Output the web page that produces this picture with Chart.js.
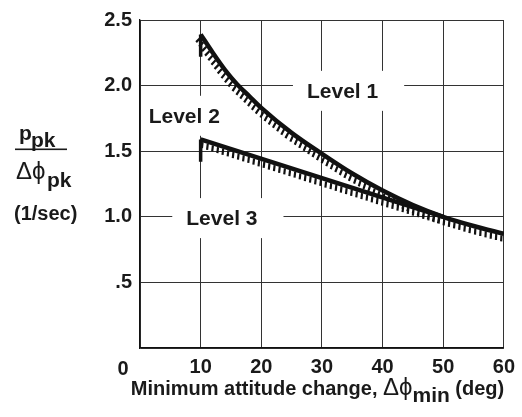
<!DOCTYPE html>
<html>
<head>
<meta charset="utf-8">
<script src="https://cdn.jsdelivr.net/npm/chart.js@4.4.0/dist/chart.umd.min.js"></script>
<style>
  html, body { margin: 0; padding: 0; background: #fff; }
  #wrap { position: relative; width: 522px; height: 417px; }
</style>
</head>
<body>
<div id="wrap"><canvas id="chart" width="522" height="417"></canvas></div>
<script>
// Limite Level 1 / Level 2 (curva superior)
const xLevel1 = [10, 12, 14, 16, 18, 20, 25, 30, 35, 40, 45, 50, 55, 60];
const yLevel1 = [2.39, 2.25, 2.12, 2.01, 1.92, 1.83, 1.64, 1.48, 1.33, 1.20, 1.09, 1.00, 0.93, 0.87];
// Limite Level 2 / Level 3 (recta inferior)
const xLevel2 = [10, 50];
const yLevel2 = [1.59, 1.00];
// Trazos verticales en el inicio de cada limite
const xStub1 = [10, 10];
const yStub1 = [2.39, 2.22];
const xStub2 = [10, 10];
const yStub2 = [1.59, 1.42];

// Etiquetas de zona
const zoneText = ['Level 1', 'Level 2', 'Level 3'];
const zoneX = [33.4, 7.3, 13.5];
const zoneY = [1.96, 1.77, 0.99];

const xTicks = [0, 10, 20, 30, 40, 50, 60];
const yTicks = [0, 0.5, 1.0, 1.5, 2.0, 2.5];

const FONT = "'Liberation Sans', Arial, Helvetica, sans-serif";
const INK = '#1a1a1a';

const toPoints = (xs, ys) => xs.map((x, i) => ({ x: x, y: ys[i] }));

// Dibuja rayado corto debajo de una polilinea
function hatch(ctx, pts, spacing, off, len) {
  let carry = spacing / 2;
  for (let i = 0; i < pts.length - 1; i++) {
    const x0 = pts[i].x, y0 = pts[i].y;
    const dx = pts[i + 1].x - x0, dy = pts[i + 1].y - y0;
    const L = Math.hypot(dx, dy);
    if (L === 0) continue;
    const ux = dx / L, uy = dy / L;
    const nx = -uy, ny = ux;
    let t = carry;
    for (; t < L; t += spacing) {
      const px = x0 + ux * t, py = y0 + uy * t;
      ctx.moveTo(px + nx * off, py + ny * off);
      ctx.lineTo(px + nx * (off + len) + ux * 1.2, py + ny * (off + len) + uy * 1.2);
    }
    carry = t - L;
  }
}

const decor = {
  id: 'decor',
  beforeDatasetsDraw(chart) {
    const { ctx, chartArea, scales } = chart;
    ctx.save();
    ctx.beginPath();
    ctx.rect(chartArea.left + 1, chartArea.top + 1, chartArea.width - 2, chartArea.height - 2);
    ctx.clip();
    ctx.font = 'bold 21px ' + FONT;
    ctx.textBaseline = 'middle';
    ctx.textAlign = 'center';
    zoneText.forEach((txt, i) => {
      const cx = scales.x.getPixelForValue(zoneX[i]);
      const cy = scales.y.getPixelForValue(zoneY[i]);
      const w = ctx.measureText(txt).width;
      ctx.fillStyle = '#fff';
      ctx.fillRect(cx - w / 2 - 14, cy - 20, w + 40, 40);
      ctx.fillStyle = INK;
      ctx.fillText(txt, cx, cy + 1);
    });
    ctx.restore();
  },
  afterDatasetsDraw(chart) {
    const { ctx } = chart;
    ctx.save();
    ctx.strokeStyle = '#111';
    ctx.lineWidth = 2.2;
    ctx.lineCap = 'butt';
    ctx.beginPath();
    chart.data.datasets.forEach((ds, i) => {
      if (!ds.hatch) return;
      const pts = chart.getDatasetMeta(i).data.map(p => ({ x: p.x, y: p.y }));
      hatch(ctx, pts, 5.4, 2, 6);
    });
    ctx.stroke();
    ctx.restore();
  },
  afterDraw(chart) {
    const { ctx, scales } = chart;
    ctx.save();
    ctx.fillStyle = INK;
    ctx.textBaseline = 'alphabetic';
    ctx.textAlign = 'left';

    // "0" del origen, desplazado a la izquierda
    ctx.font = 'bold 20px ' + FONT;
    ctx.textAlign = 'center';
    ctx.fillText('0', scales.x.getPixelForValue(0) - 17, 375);
    ctx.textAlign = 'left';

    // Titulo eje X
    const parts = [
      { t: 'Minimum attitude change, ', f: 'bold 20px ' + FONT, dy: 0 },
      { t: '\u0394\u03D5', f: '24px ' + FONT, dy: 0 },
      { t: 'min', f: 'bold 21px ' + FONT, dy: 7 },
      { t: ' (deg)', f: 'bold 20px ' + FONT, dy: 0 }
    ];
    let total = 0;
    parts.forEach(p => { ctx.font = p.f; p.w = ctx.measureText(p.t).width; total += p.w; });
    let x = 317.5 - total / 2;
    parts.forEach(p => { ctx.font = p.f; ctx.fillText(p.t, x, 395 + p.dy); x += p.w; });

    // Titulo eje Y
    ctx.font = 'bold 21px ' + FONT;
    ctx.fillText('p', 19, 140);
    ctx.fillText('pk', 31, 147);
    ctx.fillRect(15, 148.5, 52, 1.6);
    ctx.font = '24px ' + FONT;
    ctx.fillText('\u0394\u03D5', 16, 179);
    ctx.font = 'bold 21px ' + FONT;
    ctx.fillText('pk', 47, 187);
    ctx.font = 'bold 20px ' + FONT;
    ctx.fillText('(1/sec)', 14, 220);
    ctx.restore();
  }
};

new Chart(document.getElementById('chart'), {
  type: 'line',
  data: {
    datasets: [
      {
        data: toPoints(xLevel1, yLevel1),
        borderColor: '#111', borderWidth: 4.5, pointRadius: 0,
        cubicInterpolationMode: 'monotone', hatch: true
      },
      {
        data: toPoints(xLevel2, yLevel2),
        borderColor: '#111', borderWidth: 4.5, pointRadius: 0, hatch: true
      },
      {
        data: toPoints(xStub1, yStub1),
        borderColor: '#111', borderWidth: 3.5, pointRadius: 0
      },
      {
        data: toPoints(xStub2, yStub2),
        borderColor: '#111', borderWidth: 3.5, pointRadius: 0
      }
    ]
  },
  options: {
    responsive: false,
    animation: false,
    events: [],
    layout: { padding: { top: 13, right: 18, left: 0, bottom: 0 } },
    plugins: { legend: { display: false }, tooltip: { enabled: false } },
    scales: {
      x: {
        type: 'linear', min: 0, max: 60,
        afterFit: s => { s.height = 69; },
        afterBuildTicks: s => { s.ticks = xTicks.map(v => ({ value: v })); },
        grid: { color: '#333', lineWidth: 1, drawTicks: false },
        border: { color: '#111', width: 1.3 },
        ticks: {
          padding: 7, color: INK, maxRotation: 0,
          font: { family: FONT, size: 20, weight: 'bold' },
          callback: v => (v === 0 ? '' : String(v))
        }
      },
      y: {
        type: 'linear', min: 0, max: 2.5,
        afterFit: s => { s.width = 140; },
        afterBuildTicks: s => { s.ticks = yTicks.map(v => ({ value: v })); },
        grid: { color: '#333', lineWidth: 1, drawTicks: false },
        border: { color: '#111', width: 1.3 },
        ticks: {
          padding: 8, color: INK,
          font: { family: FONT, size: 20, weight: 'bold' },
          callback: v => (v === 0 ? '' : v === 0.5 ? '.5' : v.toFixed(1))
        }
      }
    }
  },
  plugins: [decor]
});
</script>
</body>
</html>
